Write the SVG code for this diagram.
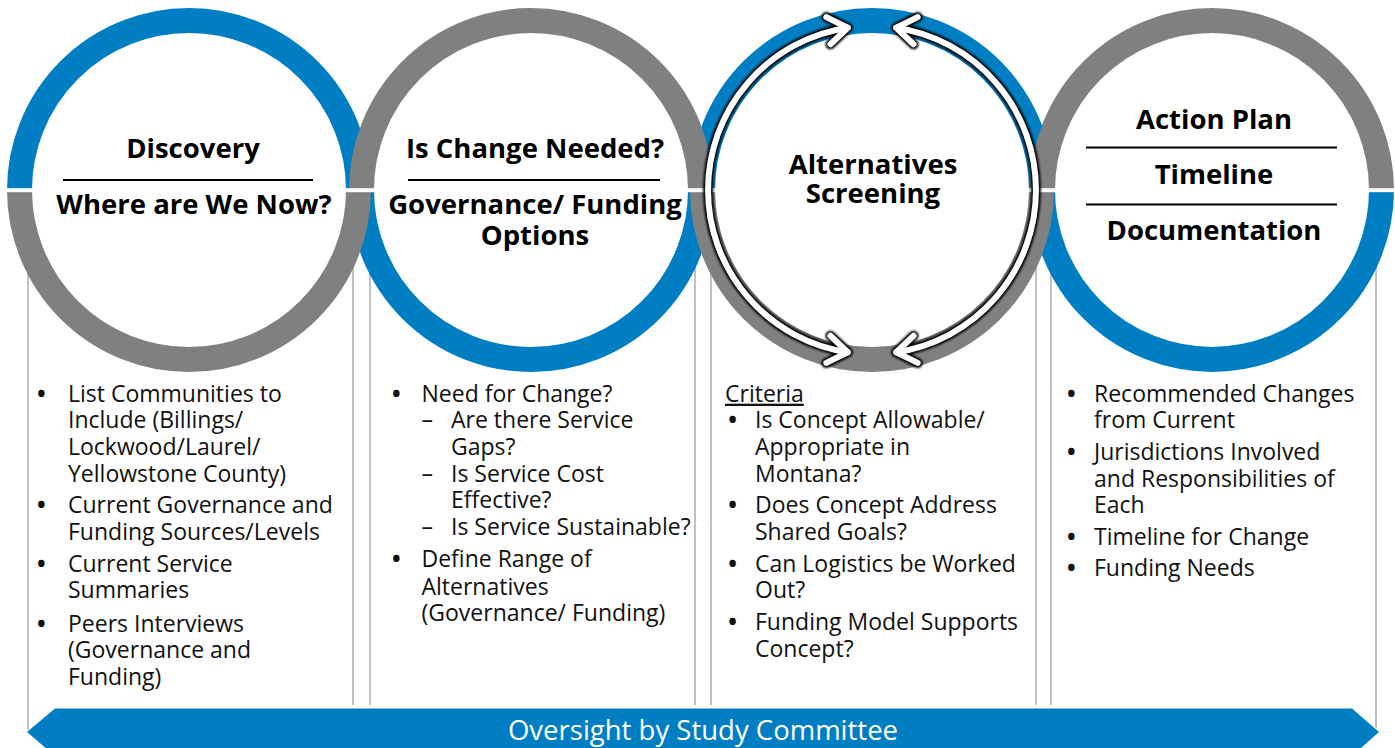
<svg xmlns="http://www.w3.org/2000/svg" width="1395" height="748" viewBox="0 0 1395 748">
  <style>
    .ringB { fill: none; stroke: #007EC3; stroke-width: 25; }
    .ringG { fill: none; stroke: #808080; stroke-width: 25; }
    .col { stroke: #ADADAD; stroke-width: 1.5; fill: none; }
    .title { font-family: "Open Sans", "Noto Sans", sans-serif; font-weight: 700; font-size: 27.5px; fill: #000; text-anchor: middle; }
    .body { font-family: "Open Sans", "Noto Sans", sans-serif; font-size: 23px; fill: #111; }
    .body .dot { font-weight: 700; }
    .rule { stroke: #000; stroke-width: 2; }
    .arrowEdge { fill: none; stroke: #000; stroke-width: 10; stroke-linecap: round; stroke-linejoin: round; }
    .arrowFill { fill: none; stroke: #fff; stroke-width: 6; stroke-linecap: round; stroke-linejoin: round; }
  </style>
  <defs>
    <filter id="soft" x="-5%" y="-5%" width="110%" height="110%">
      <feGaussianBlur stdDeviation="0.8"/>
    </filter>
    <!-- the two double-headed arcs of the screening cycle -->
    <g id="cycle">
      <path d="M847.8,27.8 A164,164 0 0 0 847.8,352.2"/>
      <path d="M896.2,27.8 A164,164 0 0 1 896.2,352.2"/>
      <path d="M826.3,17.1 L847.8,27.8 L830.4,44.3"/>
      <path d="M917.7,17.1 L896.2,27.8 L913.6,44.3"/>
      <path d="M826.3,362.9 L847.8,352.2 L830.4,335.7"/>
      <path d="M917.7,362.9 L896.2,352.2 L913.6,335.7"/>
    </g>
  </defs>

  <rect width="1395" height="748" fill="#fff"/>

  <!-- column separators -->
  <g id="columns" class="col">
    <line x1="28" y1="220" x2="28" y2="730"/>
    <line x1="353" y1="220" x2="353" y2="705"/>
    <line x1="370" y1="220" x2="370" y2="705"/>
    <line x1="695" y1="220" x2="695" y2="705"/>
    <line x1="711" y1="220" x2="711" y2="705"/>
    <line x1="1036" y1="220" x2="1036" y2="705"/>
    <line x1="1051" y1="220" x2="1051" y2="705"/>
    <line x1="1376" y1="220" x2="1376" y2="728"/>
  </g>

  <!-- rings: blue halves first, grey halves over them -->
  <g id="rings">
    <path class="ringB" d="M19.5,190 A169.5,169.5 0 0 1 358.5,190"/>
    <path class="ringB" d="M361.5,190 A169.5,169.5 0 0 0 700.5,190"/>
    <path class="ringB" d="M702.5,190 A169.5,169.5 0 0 1 1041.5,190"/>
    <path class="ringB" d="M1042.5,190 A169.5,169.5 0 0 0 1381.5,190"/>
    <path class="ringG" d="M19.5,190 A169.5,169.5 0 0 0 358.5,190"/>
    <path class="ringG" d="M361.5,190 A169.5,169.5 0 0 1 700.5,190"/>
    <path class="ringG" d="M702.5,190 A169.5,169.5 0 0 0 1041.5,190"/>
    <path class="ringG" d="M1042.5,190 A169.5,169.5 0 0 1 1381.5,190"/>
    <rect x="0" y="188.2" width="1395" height="4" fill="#fff"/>
  </g>

  <!-- cycle arrows -->
  <g id="cycle-arrows">
    <use href="#cycle" class="arrowEdge" filter="url(#soft)"/>
    <use href="#cycle" class="arrowFill"/>
  </g>

  <g id="node-discovery">
    <text class="title" x="193" y="158">Discovery</text>
    <line class="rule" x1="63" y1="180" x2="313" y2="180"/>
    <text class="title" x="194" y="214">Where are We Now?</text>
  </g>

  <g id="node-change">
    <text class="title" x="535" y="158">Is Change Needed?</text>
    <line class="rule" x1="408" y1="180" x2="660" y2="180"/>
    <text class="title" y="214"><tspan x="535">Governance/ Funding</tspan><tspan x="535" dy="30.5">Options</tspan></text>
  </g>

  <g id="node-screening">
    <text class="title" y="173.5"><tspan x="873">Alternatives</tspan><tspan x="873" dy="29">Screening</tspan></text>
  </g>

  <g id="node-action">
    <text class="title" x="1214" y="128.5">Action Plan</text>
    <line class="rule" x1="1086" y1="147.5" x2="1337" y2="147.5"/>
    <text class="title" x="1214" y="183.5">Timeline</text>
    <line class="rule" x1="1086" y1="204.5" x2="1337" y2="204.5"/>
    <text class="title" x="1214" y="239.5">Documentation</text>
  </g>

  <g id="list-discovery" class="body">
    <text class="dot" x="37" y="401.7">•</text>
    <text x="68" y="401.7">List Communities to</text>
    <text x="68" y="428.3">Include (Billings/</text>
    <text x="68" y="455">Lockwood/Laurel/</text>
    <text x="68" y="481.7">Yellowstone County)</text>
    <text class="dot" x="37" y="513.3">•</text>
    <text x="68" y="513.3">Current Governance and</text>
    <text x="68" y="540">Funding Sources/Levels</text>
    <text class="dot" x="37" y="571.7">•</text>
    <text x="68" y="571.7">Current Service</text>
    <text x="68" y="598.3">Summaries</text>
    <text class="dot" x="37" y="631.7">•</text>
    <text x="68" y="631.7">Peers Interviews</text>
    <text x="68" y="658.3">(Governance and</text>
    <text x="68" y="685">Funding)</text>
  </g>

  <g id="list-change" class="body">
    <text class="dot" x="392" y="401.7">•</text>
    <text x="421.5" y="401.7">Need for Change?</text>
    <text x="421.5" y="428.3">–</text>
    <text x="451" y="428.3">Are there Service</text>
    <text x="451" y="455">Gaps?</text>
    <text x="421.5" y="481.7">–</text>
    <text x="451" y="481.7">Is Service Cost</text>
    <text x="451" y="508.3">Effective?</text>
    <text x="421.5" y="535">–</text>
    <text x="451" y="535">Is Service Sustainable?</text>
    <text class="dot" x="392" y="567">•</text>
    <text x="421.5" y="567">Define Range of</text>
    <text x="421.5" y="594.5">Alternatives</text>
    <text x="421.5" y="621">(Governance/ Funding)</text>
  </g>

  <g id="list-screening" class="body">
    <text x="725" y="401.7" text-decoration="underline">Criteria</text>
    <text class="dot" x="728.3" y="428.3">•</text>
    <text x="755" y="428.3">Is Concept Allowable/</text>
    <text x="755" y="455">Appropriate in</text>
    <text x="755" y="481.7">Montana?</text>
    <text class="dot" x="728.3" y="513.3">•</text>
    <text x="755" y="513.3">Does Concept Address</text>
    <text x="755" y="540">Shared Goals?</text>
    <text class="dot" x="728.3" y="571.7">•</text>
    <text x="755" y="571.7">Can Logistics be Worked</text>
    <text x="755" y="598.3">Out?</text>
    <text class="dot" x="728.3" y="630">•</text>
    <text x="755" y="630">Funding Model Supports</text>
    <text x="755" y="656.7">Concept?</text>
  </g>

  <g id="list-action" class="body">
    <text class="dot" x="1067" y="401.7">•</text>
    <text x="1094" y="401.7">Recommended Changes</text>
    <text x="1094" y="428.3">from Current</text>
    <text class="dot" x="1067" y="460">•</text>
    <text x="1094" y="460">Jurisdictions Involved</text>
    <text x="1094" y="486.7">and Responsibilities of</text>
    <text x="1094" y="513.3">Each</text>
    <text class="dot" x="1067" y="545">•</text>
    <text x="1094" y="545">Timeline for Change</text>
    <text class="dot" x="1067" y="576">•</text>
    <text x="1094" y="576">Funding Needs</text>
  </g>

  <g id="oversight">
    <polygon points="55,708.5 1352,708.5 1379,732 1352,756 55,756 27,732" fill="#007EC3"/>
    <text x="703" y="739.5" text-anchor="middle" font-family="Open Sans, Noto Sans, sans-serif" font-size="27.5" fill="#fff">Oversight by Study Committee</text>
  </g>
</svg>
